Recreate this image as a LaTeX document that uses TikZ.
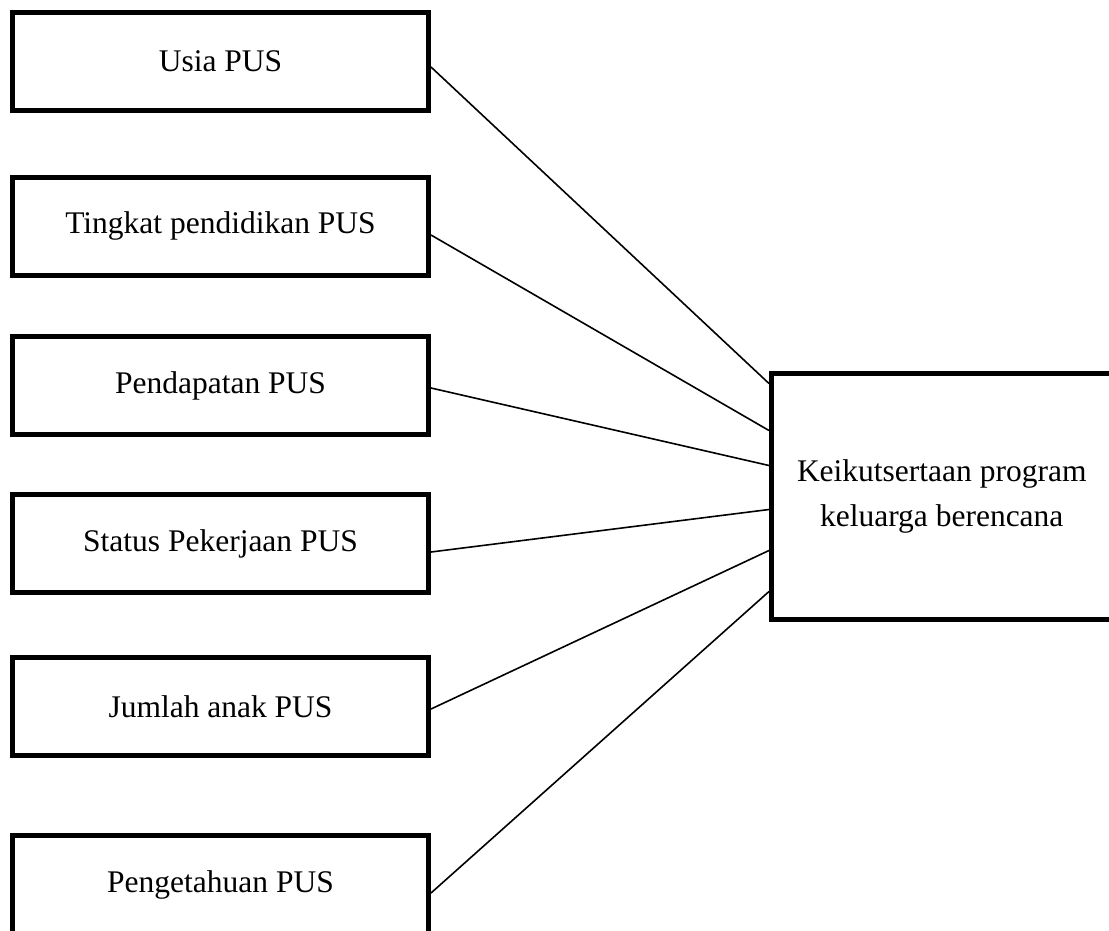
\documentclass[tikz,border=0pt]{standalone}
\usepackage{fontspec}
\setmainfont{Liberation Serif}
\usepackage{tikz}
\usetikzlibrary{positioning}
\tikzstyle{kotak}=[draw,line width=5pt,inner sep=0pt,font=\fontsize{31.5}{45}\selectfont]
\tikzstyle{faktor}=[kotak,minimum width=416pt,minimum height=98pt]
\tikzstyle{hubung}=[draw,line width=1.6pt]

\begin{document}
\begin{tikzpicture}[x=1pt,y=-1pt]
  \clip (0,0) rectangle (1109,930);
  \fill[white] (0,0) rectangle (1109,930);

  \node[faktor] (usia)   at (220.5,61.5)  {Usia PUS};
  \node[faktor] (didik)  at (220.5,226)   {Tingkat pendidikan PUS};
  \node[faktor] (dapat)  at (220.5,385.5) {Pendapatan PUS};
  \node[faktor] (kerja)  at (220.5,543.5) {Status Pekerjaan PUS};
  \node[faktor] (anak)   at (220.5,706.5) {Jumlah anak PUS};
  \node[faktor] (tahu)   at (220.5,884.5) {Pengetahuan PUS};

  \node[kotak,minimum width=340.5pt,minimum height=246pt,align=center]
    (kb) at (941.75,496.5) {Keikutsertaan program\\keluarga berencana};

  \path[hubung]
    ([yshift=-5.5pt]usia.east)  edge ([yshift=-12.5pt]kb.north west)
    ([yshift=-9pt]didik.east)   edge ([yshift=-59.5pt]kb.north west)
    ([yshift=-2.5pt]dapat.east) edge ([yshift=-94.5pt]kb.north west)
    ([yshift=-8.5pt]kerja.east) edge ([yshift=-138.5pt]kb.north west)
    ([yshift=-2.5pt]anak.east)  edge ([yshift=-179.5pt]kb.north west)
    ([yshift=-8.5pt]tahu.east)  edge ([yshift=-220.5pt]kb.north west);
\end{tikzpicture}
\end{document}
